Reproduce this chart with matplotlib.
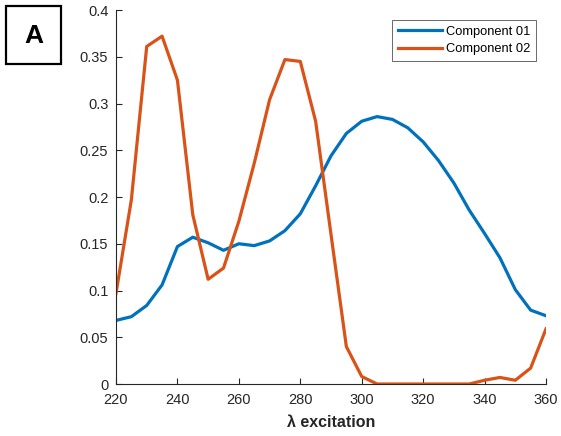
import matplotlib
matplotlib.use("Agg")
import matplotlib.pyplot as plt
from matplotlib.patches import Rectangle

plt.rcParams["font.family"] = ["Liberation Sans", "DejaVu Sans"]

# excitation wavelengths (nm)
wavelength = [220, 225, 230, 235, 240, 245, 250, 255, 260, 265, 270, 275, 280, 285, 290,
              295, 300, 305, 310, 315, 320, 325, 330, 335, 340, 345, 350, 355, 360]

comp01 = [0.068, 0.072, 0.084, 0.106, 0.147, 0.157, 0.151, 0.143, 0.150, 0.148, 0.153,
          0.164, 0.182, 0.212, 0.244, 0.268, 0.281, 0.286, 0.283, 0.274, 0.259, 0.239,
          0.215, 0.186, 0.161, 0.135, 0.101, 0.079, 0.073]

comp02 = [0.097, 0.197, 0.361, 0.372, 0.325, 0.181, 0.112, 0.124, 0.174, 0.236, 0.304,
          0.347, 0.345, 0.281, 0.160, 0.040, 0.008, 0.0, 0.0, 0.0, 0.0, 0.0,
          0.0, 0.0, 0.004, 0.007, 0.004, 0.017, 0.059]

labels = ["Component 01", "Component 02"]
text_col = "#262626"
W, H = 561, 436

fig = plt.figure(figsize=(W / 100, H / 100), dpi=100)
ax = fig.add_axes([116 / W, 1 - 384 / H, 430 / W, 374 / H])

ax.plot(wavelength, comp01, color="#0072BD", lw=2.3, label=labels[0])
ax.plot(wavelength, comp02, color="#D95319", lw=2.3, label=labels[1])

ax.set_xlim(220, 360)
ax.set_ylim(0, 0.4)
ax.set_xticks(range(220, 361, 20))
ax.set_yticks([0, 0.05, 0.1, 0.15, 0.2, 0.25, 0.3, 0.35, 0.4])
ax.set_yticklabels(["0", "0.05", "0.1", "0.15", "0.2", "0.25", "0.3", "0.35", "0.4"])
ax.tick_params(direction="in", length=4, width=0.8, colors=text_col, labelsize=10.5)
ax.tick_params(axis="x", pad=6.5)
ax.tick_params(axis="y", pad=5.5)
ax.spines["top"].set_visible(False)
ax.spines["right"].set_visible(False)
for s in ["left", "bottom"]:
    ax.spines[s].set_color(text_col)
    ax.spines[s].set_linewidth(0.8)

ax.set_xlabel("λ excitation", fontsize=11.5, fontweight="bold", color=text_col, labelpad=6)

leg = ax.legend(loc="upper right", bbox_to_anchor=(420 / 430, 1 - 10 / 374), fontsize=9.3,
                frameon=True, fancybox=False, handlelength=3.4, handletextpad=0.3,
                borderpad=0.45, labelspacing=0.4, borderaxespad=0)
leg.get_frame().set_edgecolor(text_col)
leg.get_frame().set_linewidth(0.6)

# panel letter box
fig.patches.append(Rectangle((6 / W, 1 - 64 / H), 55 / W, 58 / H, transform=fig.transFigure,
                             facecolor="white", edgecolor="black", linewidth=1.6))
fig.text(33.5 / W, 1 - 36 / H, "A", fontsize=19, fontweight="bold", ha="center", va="center")

fig.savefig("out.png", dpi=100)
